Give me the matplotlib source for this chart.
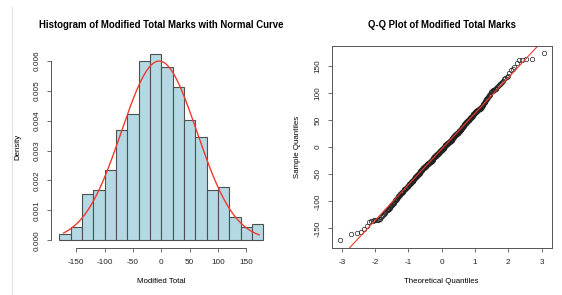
import matplotlib
matplotlib.use('Agg')
import matplotlib.pyplot as plt
from matplotlib.lines import Line2D
from statistics import NormalDist
import numpy as np

plt.rcParams['font.family'] = ['Liberation Sans', 'DejaVu Sans']
plt.rcParams['axes.unicode_minus'] = False

marks = np.array([
    -172, -161,
    -158, -156, -152, -146,
    -139, -137, -136, -135, -135, -134, -134, -133, -132, -130, -127, -125, -123, -121,
    -119, -118, -117, -116, -115, -114, -113, -111, -109, -107, -106, -105, -104, -103, -101,
    -99, -98, -97, -96, -95, -94, -93, -92, -91, -90, -89, -88, -87, -86, -85, -84, -84,
    -83, -82, -82, -81,
    -79, -79, -78, -78, -77, -77, -76, -75, -75, -74, -74, -73, -72, -72, -71, -71, -70,
    -69, -69, -68, -68, -67, -66, -66, -65, -65, -64, -63, -63, -62, -62, -61, -61,
    -59, -59, -58, -58, -57, -57, -56, -56, -55, -55, -54, -54, -53, -53, -52, -52, -51,
    -51, -50, -50, -49, -49, -48, -48, -47, -47, -46, -46, -45, -45, -44, -44, -43, -43,
    -42, -42, -41, -41,
    -39, -39, -39, -38, -38, -38, -37, -37, -37, -36, -36, -36, -35, -35, -35, -34, -34,
    -34, -33, -33, -33, -32, -32, -32, -31, -31, -31, -30, -30, -30, -29, -29, -29, -28,
    -28, -28, -27, -27, -27, -26, -26, -26, -25, -25, -25, -24, -24, -24, -23, -23, -22,
    -22, -21, -21,
    -19, -19, -19, -18, -18, -18, -17, -17, -17, -16, -16, -16, -15, -15, -15, -14, -14,
    -14, -13, -13, -13, -12, -12, -12, -11, -11, -11, -10, -10, -10, -9, -9, -9, -8, -8,
    -8, -7, -7, -7, -6, -6, -6, -5, -5, -5, -4, -4, -4, -3, -3, -3, -2, -2, -2, -1, -1,
    1, 1, 1, 2, 2, 2, 3, 3, 3, 4, 4, 4, 5, 5, 5, 6, 6, 6, 7, 7, 7, 8, 8, 8, 9, 9, 9,
    10, 10, 10, 11, 11, 11, 12, 12, 12, 13, 13, 13, 14, 14, 14, 15, 15, 16, 16, 17, 17,
    18, 18, 19, 19,
    21, 21, 21, 22, 22, 22, 23, 23, 23, 24, 24, 24, 25, 25, 25, 26, 26, 26, 27, 27, 27,
    28, 28, 28, 29, 29, 30, 30, 31, 31, 32, 32, 33, 33, 34, 34, 35, 35, 36, 36, 37, 37,
    38, 38, 39, 39,
    41, 41, 42, 42, 43, 43, 44, 44, 45, 45, 46, 46, 47, 47, 48, 48, 49, 49, 50, 50, 51,
    51, 52, 52, 53, 53, 54, 54, 55, 55, 56, 56, 57, 57, 58, 59,
    61, 61, 62, 62, 63, 63, 64, 64, 65, 65, 66, 66, 67, 67, 68, 68, 69, 69, 70, 70, 71,
    71, 72, 72, 73, 74, 75, 76, 77, 78, 79,
    81, 82, 83, 84, 86, 87, 88, 89, 91, 92, 93, 95, 96, 97, 99,
    101, 102, 103, 104, 105, 105, 106, 107, 108, 110, 111, 113, 114, 116, 117, 119,
    121, 123, 125, 127, 129, 132, 136,
    142, 145, 148, 155,
    160.5, 161, 162, 163, 173,
])

bin_edges = np.arange(-180, 181, 20)
hist_xticks = [-150, -100, -50, 0, 50, 100, 150]
hist_yticks = [0.000, 0.001, 0.002, 0.003, 0.004, 0.005, 0.006]
hist_ylabels = ['0.000', '0.001', '0.002', '0.003', '0.004', '0.005', '0.006']
qq_xticks = [-3, -2, -1, 0, 1, 2, 3]
qq_yticks = [-150, -100, -50, 0, 50, 100, 150]

RED = '#ee3b2b'
AX = '#555555'
W, H = 562, 295
TICK_FS, LABEL_FS, TITLE_FS = 5.9, 5.7, 6.9

fig = plt.figure(figsize=(W / 100, H / 100), dpi=100)
fig.add_artist(Line2D([12 / W, 12 / W], [0, 1 - 7 / H], color='#e2e2e2', lw=0.8))


def style_axes(ax):
    ax.tick_params(direction='out', length=3, width=0.6, color=AX,
                   labelsize=TICK_FS, labelcolor='#222222')
    ax.tick_params(axis='x', pad=5)
    ax.tick_params(axis='y', pad=4.5)
    for s in ax.spines.values():
        s.set_color(AX)
        s.set_linewidth(0.7)


# ---- histogram with normal curve ----
ax1 = fig.add_axes([51 / W, 1 - 247.7 / H, 220.4 / W, 201.7 / H])
ax1.hist(marks, bins=bin_edges, density=True, color='#b4d8e4',
         edgecolor='#4f4f4f', linewidth=0.8)
mu, sd = marks.mean(), marks.std(ddof=1)
xs = np.linspace(marks.min(), marks.max(), 300)
ax1.plot(xs, np.exp(-0.5 * ((xs - mu) / sd) ** 2) / (sd * np.sqrt(2 * np.pi)),
         color=RED, lw=1.0)
ax1.set_xlim(-194.4, 194.4)
ax1.set_ylim(-0.00025, 0.0065)
ax1.set_xticks(hist_xticks)
ax1.set_xticklabels([str(t) for t in hist_xticks])
ax1.set_yticks(hist_yticks)
ax1.set_yticklabels(hist_ylabels, rotation=90, va='center')
ax1.spines['top'].set_visible(False)
ax1.spines['right'].set_visible(False)
ax1.spines['left'].set_bounds(0, 0.006)
ax1.spines['bottom'].set_bounds(-150, 150)
style_axes(ax1)
ax1.set_xlabel('Modified Total', fontsize=LABEL_FS, va='center')
ax1.xaxis.set_label_coords(0.5, -34 / 201.7)
ax1.set_ylabel('Density', fontsize=LABEL_FS, va='center')
ax1.yaxis.set_label_coords(-33 / 220.4, 0.5)
ax1.text(0.5, 1 + 20.7 / 201.7, 'Histogram of Modified Total Marks with Normal Curve',
         transform=ax1.transAxes, ha='center', va='center',
         fontsize=TITLE_FS, fontweight='bold')

# ---- normal Q-Q plot ----
n = len(marks)
nd = NormalDist()
theo = np.array([nd.inv_cdf((i - 0.5) / n) for i in range(1, n + 1)])
sample = np.sort(marks)

ax2 = fig.add_axes([331.7 / W, 1 - 247.7 / H, 220 / W, 201.7 / H])
ax2.plot(theo, sample, 'o', ms=3.2, mfc='none', mec='#222222', mew=0.5)
q1, q3 = np.quantile(sample, [0.25, 0.75])
z1, z3 = nd.inv_cdf(0.25), nd.inv_cdf(0.75)
slope = (q3 - q1) / (z3 - z1)
ax2.axline((0, q1 - slope * z1), slope=slope, color=RED, lw=0.8)
px = 0.04 * (theo.max() - theo.min())
py = 0.04 * (sample.max() - sample.min())
ax2.set_xlim(theo.min() - px, theo.max() + px)
ax2.set_ylim(sample.min() - py, sample.max() + py)
ax2.set_xticks(qq_xticks)
ax2.set_xticklabels([str(t) for t in qq_xticks])
ax2.set_yticks(qq_yticks)
ax2.set_yticklabels([str(t) for t in qq_yticks], rotation=90, va='center')
style_axes(ax2)
ax2.set_xlabel('Theoretical Quantiles', fontsize=LABEL_FS, va='center')
ax2.xaxis.set_label_coords(0.5, -34 / 201.7)
ax2.set_ylabel('Sample Quantiles', fontsize=LABEL_FS, va='center')
ax2.yaxis.set_label_coords(-34 / 220, 0.5)
ax2.text(0.5, 1 + 20.7 / 201.7, 'Q-Q Plot of Modified Total Marks',
         transform=ax2.transAxes, ha='center', va='center',
         fontsize=TITLE_FS, fontweight='bold')

fig.savefig('out.png', dpi=100, facecolor='white')
